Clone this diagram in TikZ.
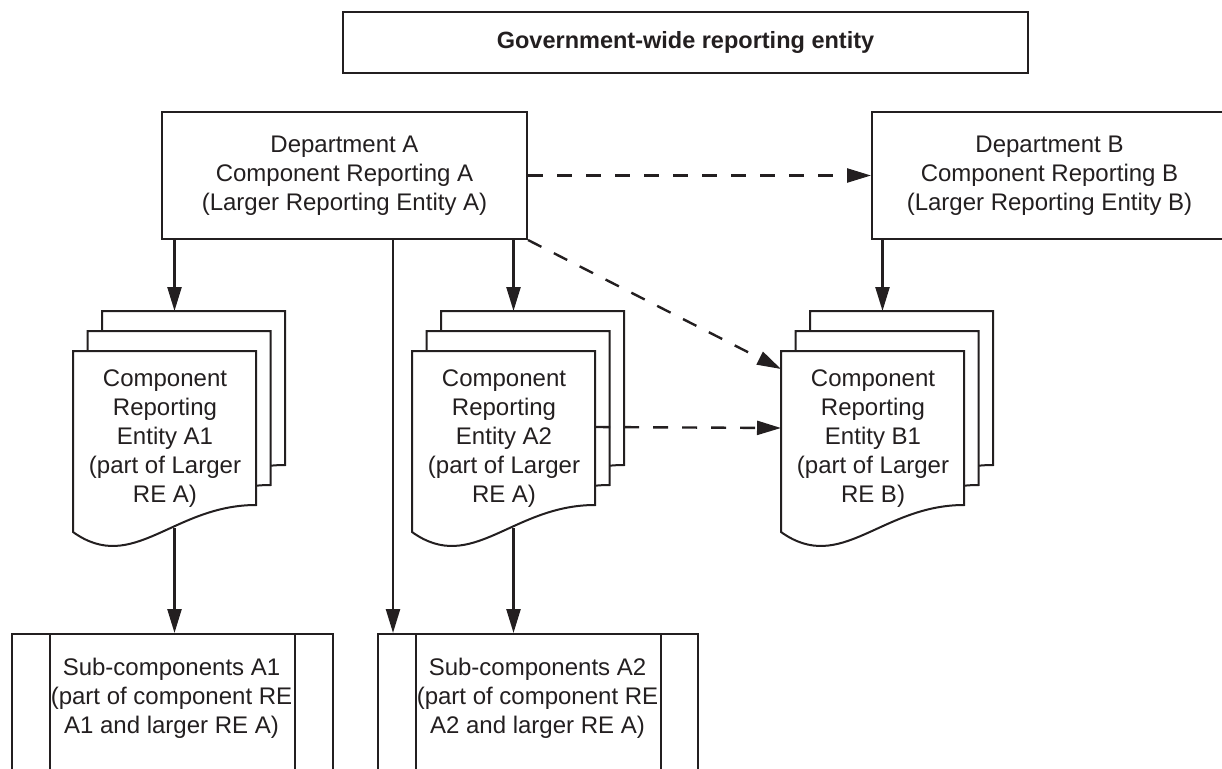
\documentclass[tikz,border=0pt]{standalone}
\usepackage{fontspec}
\setmainfont{Liberation Sans}
\usetikzlibrary{arrows.meta,calc}
\definecolor{lc}{HTML}{231F20}
\begin{document}
\begin{tikzpicture}[x=1pt,y=-1pt,
  box/.style={draw=lc, line width=2pt, rectangle, inner sep=0pt, fill=white},
  txt/.style={align=center, font=\fontsize{24}{29}\selectfont, text=lc, inner sep=0pt},
  arr/.style={draw=lc, line width=2.4pt, -{Triangle[length=24pt,width=14pt]}},
  darr/.style={arr, dash pattern=on 15pt off 14pt},
  edge/.style={draw=lc, line width=2pt},
  docline/.style={draw=lc, line width=2pt, fill=white, line join=miter},
  pics/docstack/.style={code={
    \foreach \dx/\dy in {29/-40,14.5/-20,0/0}{
      \path[docline] (\dx,\dy) -- ({\dx+183},\dy) -- ({\dx+183},{\dy+154})
        .. controls ({\dx+100},{\dy+154}) and ({\dx+60},{\dy+224}) .. (\dx,{\dy+181}) -- cycle;
    }
    \node[txt] (-t) at (92,88) {#1};
    \coordinate (-top) at (101.5,-40);
    \coordinate (-bot) at (101.5,177);
    \coordinate (-e) at (183,76);
    \coordinate (-w) at (0,77);
    \coordinate (-nw) at (0,18);
  }}
]
\useasboundingbox (0,0) rectangle (1222,768);
\begin{scope}
\clip (0,0) rectangle (1222,768);

% top box
\node[box, minimum width=685pt, minimum height=61pt, text=lc,
      font=\bfseries\fontsize{23.5}{28}\selectfont] (gov) at (685.5,42.5)
      {Government-wide reporting entity};

% departments
\node[box, txt, minimum width=365pt, minimum height=127pt] (depA) at (344.5,175.5)
  {Department A\\Component Reporting A\\(Larger Reporting Entity A)};
\node[box, txt, minimum width=355pt, minimum height=127pt] (depB) at (1049.5,175.5)
  {Department B\\Component Reporting B\\(Larger Reporting Entity B)};

% document stacks
\pic (docA1) at (73,351) {docstack={Component\\Reporting\\Entity A1\\(part of Larger\\RE A)}};
\pic (docA2) at (412,351) {docstack={Component\\Reporting\\Entity A2\\(part of Larger\\RE A)}};
\pic (docB1) at (781,351) {docstack={Component\\Reporting\\Entity B1\\(part of Larger\\RE B)}};

% sub-component boxes
\node[box, minimum width=321pt, minimum height=180pt, anchor=north west] (subA1) at (11,633) {};
\draw[edge] ([xshift=39pt]subA1.north west) -- ([xshift=39pt]subA1.south west);
\draw[edge] ([xshift=-39pt]subA1.north east) -- ([xshift=-39pt]subA1.south east);
\node[txt] (subA1t) at (171.5,698) {Sub-components A1\\(part of component RE\\A1 and larger RE A)};

\node[box, minimum width=320pt, minimum height=180pt, anchor=north west] (subA2) at (377,633) {};
\draw[edge] ([xshift=39pt]subA2.north west) -- ([xshift=39pt]subA2.south west);
\draw[edge] ([xshift=-38pt]subA2.north east) -- ([xshift=-38pt]subA2.south east);
\node[txt] (subA2t) at (537.5,698) {Sub-components A2\\(part of component RE\\A2 and larger RE A)};

% solid connectors
\draw[arr] (docA1-top |- depA.south) -- (docA1-top);
\draw[arr] (docA2-top |- depA.south) -- (docA2-top);
\draw[arr] (docB1-top |- depB.south) -- (docB1-top);
\draw[arr] (docA1-bot) -- (docA1-bot |- subA1.north);
\draw[arr] (docA2-bot) -- (docA2-bot |- subA2.north);
\coordinate (vA) at ([xshift=16pt]subA2.north west);
\draw[arr] (vA |- depA.south) -- (vA);

% dashed connectors
\draw[darr] (depA.east) -- (depB.west);
\draw[darr] (depA.south east) -- (docB1-nw);
\draw[darr] (docA2-e) -- (docB1-w);
\end{scope}
\end{tikzpicture}
\end{document}
